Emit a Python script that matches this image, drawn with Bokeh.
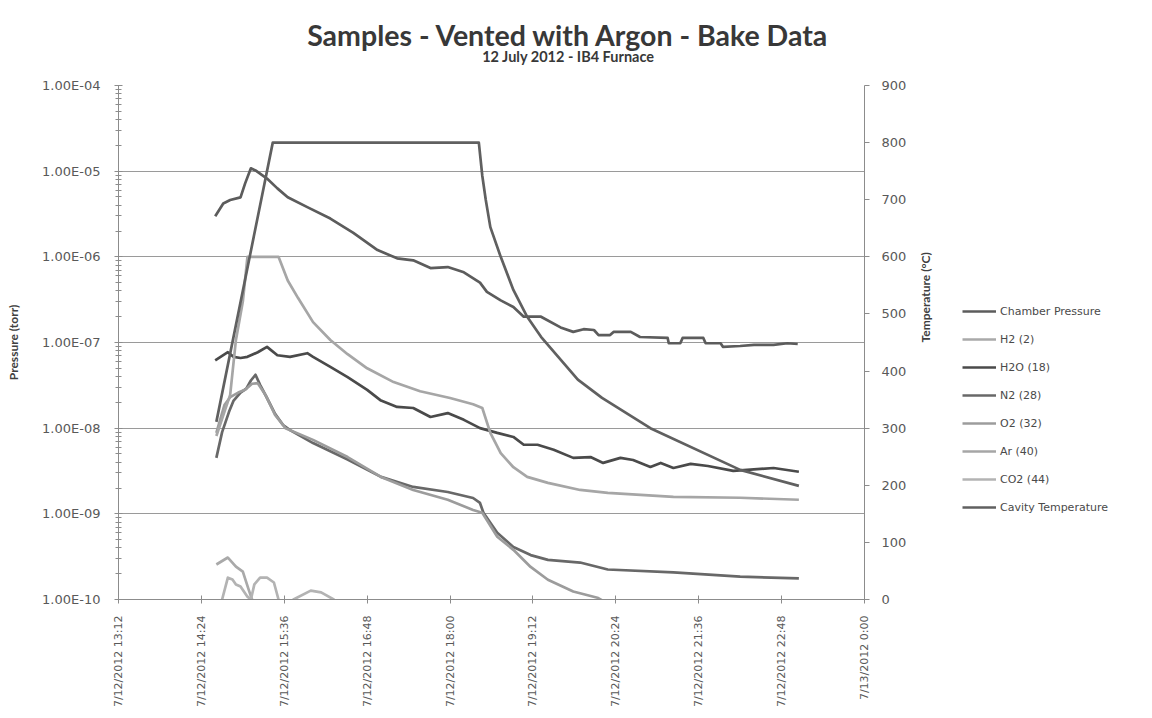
import math
from bokeh.plotting import figure
from bokeh.layouts import column, row
from bokeh.models import (LinearAxis, Range1d, FixedTicker, CustomJSTickFormatter,
                          Legend, LegendItem, Label, LinearScale)
from bokeh.embed import file_html
from bokeh.resources import INLINE

# ---------------- data (times on 7/12/2012, "24:00" = 7/13 0:00) ----------------
x_tick_times = ["13:12", "14:24", "15:36", "16:48", "18:00", "19:12",
                "20:24", "21:36", "22:48", "24:00"]
x_tick_labels = ["7/12/2012 13:12", "7/12/2012 14:24", "7/12/2012 15:36",
                 "7/12/2012 16:48", "7/12/2012 18:00", "7/12/2012 19:12",
                 "7/12/2012 20:24", "7/12/2012 21:36", "7/12/2012 22:48",
                 "7/13/2012 0:00"]
left_tick_labels = ["1.00E-10", "1.00E-09", "1.00E-08", "1.00E-07",
                    "1.00E-06", "1.00E-05", "1.00E-04"]
right_ticks = [0, 100, 200, 300, 400, 500, 600, 700, 800, 900]

chamber_t = ["14:36", "14:43", "14:49", "14:58", "15:02", "15:07", "15:11", "15:21",
             "15:30", "15:39", "15:56", "16:16", "16:36", "16:57", "17:14", "17:28",
             "17:43", "17:58", "18:12", "18:26", "18:32", "18:44", "18:55", "19:04",
             "19:19", "19:36", "19:47", "19:56", "20:05", "20:09", "20:19", "20:22",
             "20:37", "20:45", "21:09", "21:10", "21:20", "21:22", "21:40", "21:42",
             "21:55", "21:57", "22:12", "22:24", "22:41", "22:53", "23:02"]
chamber_p = [2.97e-6, 4.2e-6, 4.6e-6, 4.95e-6, 7.2e-6, 1.08e-5, 1.02e-5, 8.2e-6,
             6.3e-6, 4.95e-6, 3.8e-6, 2.8e-6, 1.9e-6, 1.2e-6, 9.6e-7, 9.1e-7,
             7.4e-7, 7.6e-7, 6.6e-7, 5.0e-7, 3.9e-7, 3.1e-7, 2.6e-7, 2.0e-7,
             2.0e-7, 1.5e-7, 1.33e-7, 1.43e-7, 1.4e-7, 1.22e-7, 1.22e-7, 1.33e-7,
             1.33e-7, 1.16e-7, 1.13e-7, 9.8e-8, 9.8e-8, 1.13e-7, 1.13e-7, 9.8e-8,
             9.8e-8, 8.9e-8, 9.1e-8, 9.4e-8, 9.4e-8, 9.8e-8, 9.6e-8]

h2_t = ["14:37", "14:47", "14:54", "15:00", "15:05", "15:08", "15:12"]
h2_p = [2.56e-10, 3.09e-10, 2.42e-10, 2.12e-10, 1.31e-10, 1.0e-10, 8.0e-11]

h2o_t = ["14:36", "14:47", "14:52", "14:58", "15:04", "15:13", "15:21", "15:30",
         "15:41", "15:56", "16:01", "16:16", "16:31", "16:48", "17:00", "17:14",
         "17:28", "17:43", "17:58", "18:12", "18:26", "18:41", "18:55", "19:04",
         "19:16", "19:30", "19:47", "20:02", "20:13", "20:28", "20:39", "20:54",
         "21:03", "21:14", "21:29", "21:44", "22:06", "22:18", "22:41", "23:03"]
h2o_p = [6.2e-8, 7.7e-8, 6.8e-8, 6.6e-8, 6.8e-8, 7.7e-8, 8.9e-8, 7.1e-8,
         6.8e-8, 7.5e-8, 6.8e-8, 5.2e-8, 3.95e-8, 2.8e-8, 2.1e-8, 1.77e-8,
         1.72e-8, 1.35e-8, 1.5e-8, 1.25e-8, 1.0e-8, 8.8e-9, 7.9e-9, 6.4e-9,
         6.4e-9, 5.6e-9, 4.5e-9, 4.6e-9, 3.93e-9, 4.5e-9, 4.25e-9, 3.53e-9,
         3.93e-9, 3.43e-9, 3.83e-9, 3.62e-9, 3.17e-9, 3.26e-9, 3.43e-9, 3.1e-9]

n2_t = ["14:37", "14:42", "14:48", "14:52", "14:58", "15:03", "15:07", "15:11",
        "15:15", "15:21", "15:28", "15:35", "15:41", "16:01", "16:31", "17:00",
        "17:28", "17:58", "18:20", "18:26", "18:29", "18:41", "18:55", "19:10",
        "19:25", "19:53", "20:17", "21:14", "22:12", "23:03"]
n2_p = [4.5e-9, 9.0e-9, 1.55e-8, 2.1e-8, 2.6e-8, 2.9e-8, 3.6e-8, 4.2e-8,
        3.2e-8, 2.25e-8, 1.47e-8, 1.09e-8, 9.5e-9, 6.7e-9, 4.3e-9, 2.7e-9,
        2.06e-9, 1.8e-9, 1.53e-9, 1.34e-9, 1.03e-9, 6.0e-10, 4.1e-10, 3.3e-10,
        2.9e-10, 2.7e-10, 2.24e-10, 2.07e-10, 1.85e-10, 1.76e-10]

o2_t = ["14:37", "14:44", "14:49", "14:56", "15:02", "15:08", "15:13", "15:20",
        "15:28", "15:37", "16:01", "16:31", "17:00", "17:28", "17:58", "18:20",
        "18:28", "18:41", "18:55", "19:10", "19:25", "19:47", "20:08", "20:20"]
o2_p = [8.8e-9, 1.86e-8, 2.3e-8, 2.6e-8, 2.8e-8, 3.3e-8, 3.35e-8, 2.4e-8,
        1.43e-8, 1.0e-8, 7.3e-9, 4.6e-9, 2.7e-9, 1.9e-9, 1.46e-9, 1.11e-9,
        1.03e-9, 5.4e-10, 3.8e-10, 2.4e-10, 1.7e-10, 1.24e-10, 1.05e-10, 8.5e-11]

ar_t = ["14:37", "14:44", "14:49", "14:54", "15:00", "15:04", "15:31", "15:39",
        "15:48", "16:01", "16:16", "16:31", "16:48", "17:11", "17:34", "18:00",
        "18:20", "18:28", "18:35", "18:44", "18:55", "19:07", "19:25", "19:53",
        "20:17", "21:14", "22:12", "23:03"]
ar_p = [8.1e-9, 1.55e-8, 2.45e-8, 1.07e-7, 3.0e-7, 1.0e-6, 1.0e-6, 5.3e-7,
        3.3e-7, 1.73e-7, 1.07e-7, 7.3e-8, 5.0e-8, 3.45e-8, 2.7e-8, 2.25e-8,
        1.9e-8, 1.72e-8, 8.8e-9, 5.1e-9, 3.5e-9, 2.7e-9, 2.3e-9, 1.9e-9,
        1.76e-9, 1.58e-9, 1.54e-9, 1.46e-9]

co2_t = ["14:38", "14:42", "14:47", "14:51", "14:54", "14:58", "15:04", "15:07",
         "15:10", "15:15", "15:21", "15:27", "15:31", "15:37", "15:44", "15:59",
         "16:08", "16:19", "16:25"]
co2_p = [8.0e-11, 1.0e-10, 1.8e-10, 1.71e-10, 1.5e-10, 1.42e-10, 1.08e-10, 1.0e-10,
         1.5e-10, 1.8e-10, 1.8e-10, 1.58e-10, 1.0e-10, 8.0e-11, 1.0e-10, 1.27e-10,
         1.21e-10, 1.0e-10, 8.0e-11]

temp_t = ["14:37", "15:26", "18:25", "18:28", "18:31", "18:35", "18:44", "18:55",
          "19:07", "19:19", "19:51", "20:12", "20:54", "22:12", "23:03"]
temp_c = [311, 800, 800, 742, 700, 652, 600, 542, 495, 460, 385, 353, 300, 227, 199]

title_text = "Samples - Vented with Argon - Bake Data"
subtitle_text = "12 July 2012 - IB4 Furnace"


def to_min(s):
    h, m = s.split(":")
    return int(h) * 60 + int(m)


def mins(lst):
    return [to_min(s) for s in lst]


FONT = "DejaVu Sans"
TICK_COLOR = "#595959"
AXIS_COLOR = "#8c8c8c"
TITLE_COLOR = "#383838"

# ---------------- title strip ----------------
TW, TH = 1144, 72
pt = figure(width=TW, height=TH, x_range=Range1d(0, TW), y_range=Range1d(0, TH),
            output_backend="svg", toolbar_location=None, min_border=0,
            x_axis_location=None, y_axis_location=None,
            background_fill_color="white", border_fill_color="white")
pt.outline_line_color = None
pt.xgrid.visible = False
pt.ygrid.visible = False
pt.add_layout(Label(x=568, y=TH - 34, text=title_text, text_font="Lato",
                    text_font_style="bold", text_font_size="28.5px",
                    text_color=TITLE_COLOR, text_align="center",
                    text_baseline="middle"))
pt.add_layout(Label(x=568, y=TH - 56, text=subtitle_text, text_font="Lato",
                    text_font_style="bold", text_font_size="14.5px",
                    text_color=TITLE_COLOR, text_align="center",
                    text_baseline="middle"))

# ---------------- main chart ----------------
PW, PH = 950, 638
p = figure(width=PW, height=PH, y_axis_type="log",
           x_range=Range1d(to_min(x_tick_times[0]), to_min(x_tick_times[-1])),
           y_range=Range1d(1e-10, 1e-4),
           output_backend="svg", toolbar_location=None,
           min_border_left=118, min_border_right=86,
           min_border_top=13, min_border_bottom=110,
           background_fill_color="white", border_fill_color="white")
p.outline_line_color = None
p.extra_y_ranges = {"temp": Range1d(0, 900)}
p.extra_y_scales = {"temp": LinearScale()}

major_log = [10.0 ** e for e in range(-10, -3)]
minor_log = [m * 10.0 ** e for e in range(-10, -4) for m in range(2, 10)]

ya = p.yaxis[0]
ya.ticker = FixedTicker(ticks=major_log, minor_ticks=minor_log)
ya.formatter = CustomJSTickFormatter(args=dict(labels=left_tick_labels),
                                     code="const i = Math.round(Math.log10(tick)) + 10; return labels[i] || '';")
ya.axis_label = "Pressure (torr)"
ya.axis_label_text_font = "Lato"
ya.axis_label_text_font_style = "bold"
ya.axis_label_text_font_size = "12px"
ya.axis_label_text_color = "#404040"
ya.axis_label_standoff = 18
ya.major_label_text_font = FONT
ya.major_label_text_font_size = "13px"
ya.major_label_text_color = TICK_COLOR
ya.major_label_standoff = 14
ya.axis_line_color = AXIS_COLOR
ya.major_tick_line_color = AXIS_COLOR
ya.minor_tick_line_color = AXIS_COLOR
ya.major_tick_in = 4
ya.major_tick_out = 4
ya.minor_tick_in = 3
ya.minor_tick_out = 3

xa = p.xaxis[0]
xticks = mins(x_tick_times)
xa.ticker = FixedTicker(ticks=xticks)
xa.major_label_overrides = {t: lab for t, lab in zip(xticks, x_tick_labels)}
xa.major_label_orientation = math.pi / 2
xa.major_label_text_font = FONT
xa.major_label_text_font_size = "11px"
xa.major_label_text_color = TICK_COLOR
xa.major_label_standoff = 12
xa.axis_line_color = AXIS_COLOR
xa.major_tick_line_color = AXIS_COLOR
xa.minor_tick_line_color = None
xa.major_tick_in = 4
xa.major_tick_out = 4

ra = LinearAxis(y_range_name="temp", ticker=FixedTicker(ticks=right_ticks))
ra.axis_label = "Temperature (°C)"
ra.axis_label_text_font = "Lato"
ra.axis_label_text_font_style = "bold"
ra.axis_label_text_font_size = "12px"
ra.axis_label_text_color = "#404040"
ra.axis_label_standoff = 16
try:
    ra.axis_label_orientation = math.pi / 2
except Exception:
    pass
ra.major_label_text_font = FONT
ra.major_label_text_font_size = "13px"
ra.major_label_text_color = TICK_COLOR
ra.major_label_standoff = 12
ra.axis_line_color = AXIS_COLOR
ra.major_tick_line_color = AXIS_COLOR
ra.minor_tick_line_color = None
ra.major_tick_in = 0
ra.major_tick_out = 5
p.add_layout(ra, "right")

p.xgrid.visible = False
p.ygrid.ticker = FixedTicker(ticks=major_log)
p.ygrid.grid_line_color = "#9a9a9a"
p.ygrid.grid_line_width = 1

# ---------------- legend strip ----------------
LWID = TW - PW
pl = figure(width=LWID, height=PH, x_range=Range1d(0, 1), y_range=Range1d(0, 1),
            output_backend="svg", toolbar_location=None, min_border=0,
            x_axis_location=None, y_axis_location=None,
            background_fill_color="white", border_fill_color="white")
pl.outline_line_color = None
pl.xgrid.visible = False
pl.ygrid.visible = False

LW = 2.7
series = [
    ("Chamber Pressure", chamber_t, chamber_p, "#5c5c5c", None),
    ("H2 (2)", h2_t, h2_p, "#a9a9a9", None),
    ("H2O (18)", h2o_t, h2o_p, "#4a4a4a", None),
    ("N2 (28)", n2_t, n2_p, "#686868", None),
    ("O2 (32)", o2_t, o2_p, "#9c9c9c", None),
    ("Ar (40)", ar_t, ar_p, "#a6a6a6", None),
    ("CO2 (44)", co2_t, co2_p, "#b3b3b3", None),
    ("Cavity Temperature", temp_t, temp_c, "#606060", "temp"),
]
items = []
for name, tt, vv, col, rng in series:
    kw = {}
    if rng:
        kw["y_range_name"] = rng
    p.line(mins(tt), vv, line_color=col, line_width=LW, line_join="round", **kw)
    # off-range proxy so the legend strip can show the swatch
    proxy = pl.line([0, 1], [-5, -5], line_color=col, line_width=LW)
    items.append(LegendItem(label=name, renderers=[proxy]))

legend = Legend(items=items, location=(12, 82), orientation="vertical",
                label_text_font=FONT, label_text_font_size="11px",
                label_text_color="#4a4a4a", glyph_width=34, glyph_height=20,
                label_height=20, spacing=8, label_standoff=4, padding=0, margin=0,
                border_line_color=None, background_fill_alpha=0)
pl.add_layout(legend, "center")

layout = column(pt, row(p, pl))
open("out.html", "w").write(file_html(layout, INLINE))
